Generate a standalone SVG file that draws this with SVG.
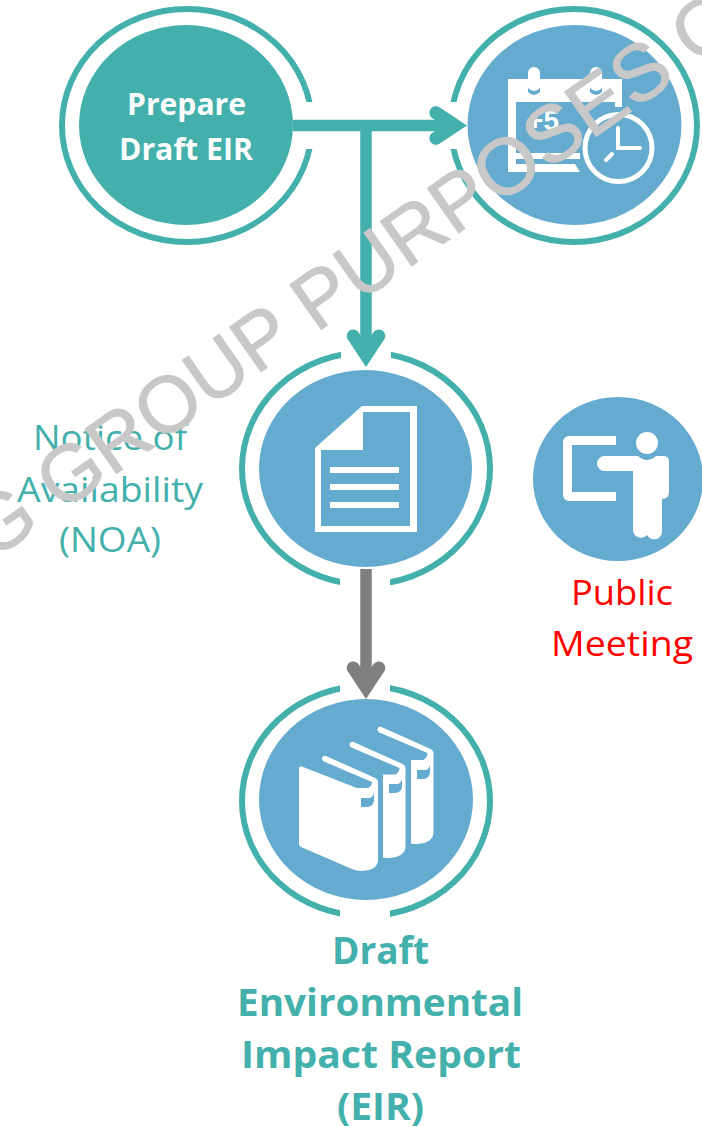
<svg xmlns="http://www.w3.org/2000/svg" width="702" height="1127" viewBox="0 0 702 1127">
<style>
.ring{fill:none;stroke:#43b0ac;stroke-width:6}
.disc{fill:#65abcf}
.ico{fill:#fff}
.t{font-family:"Open Sans","Liberation Sans",sans-serif;text-anchor:middle}
.r{font-size:35px}
.m{font-size:30px;font-weight:700;fill:#fff}
.b{font-size:38px;font-weight:700;fill:#43b0ac}
.teal{fill:#43b0ac}
.red{fill:#ff0000}
</style>
<defs>
<path id="head" d="M0 0L-18.500-28A6.500 6.500 0 0 1-8-35.500L0-24L8-35.500A6.500 6.500 0 0 1 18.500-28Z"/>
<clipPath id="gap-right"><path clip-rule="evenodd" d="M40 0H330V260H40zM250 102H330V149H250z"/></clipPath>
<clipPath id="gap-left"><path clip-rule="evenodd" d="M430 0H702V260H430zM430 102H500V149H430z"/></clipPath>
<clipPath id="gap-tb"><path clip-rule="evenodd" d="M220 340H510V930H220zM341 340H391V370H341zM340 570H390V700H340zM340 900H390V930H340z"/></clipPath>
</defs>
<rect width="702" height="1127" fill="#fff"/>
<g id="node-prepare">
<ellipse class="ring" cx="187" cy="125.500" rx="125" ry="116.500" clip-path="url(#gap-right)"/>
<ellipse cx="186" cy="125" rx="107" ry="100" fill="#43b0ac"/>
<text class="t m" x="186.500" y="115" textLength="119" lengthAdjust="spacingAndGlyphs">Prepare</text>
<text class="t m" x="186" y="160" textLength="134" lengthAdjust="spacingAndGlyphs">Draft EIR</text>
</g>
<g id="node-calendar">
<ellipse class="ring" cx="574" cy="125.500" rx="123" ry="116.500" clip-path="url(#gap-left)"/>
<ellipse class="disc" cx="574.500" cy="125" rx="107" ry="100"/>
<path class="ico" d="M508 79H528V73a6 6 0 0 1 12 0V79H590V73a6 6 0 0 1 12 0V79H622V107H615V102H516V153H580V159H516V164H575L580 172H508z"/>
<path class="disc" d="M528 88q6 6 12 0v4q-6 6-12 0zM590 88q6 6 12 0v4q-6 6-12 0z"/>
<circle cx="618.500" cy="148" r="33.500" fill="#65abcf" stroke="#fff" stroke-width="5"/>
<path d="M618 128V148H640M606 160L612 154" fill="none" stroke="#fff" stroke-width="4" stroke-linecap="round"/>
<text x="543" y="130" font-family="Liberation Sans,sans-serif" font-weight="700" font-size="28" text-anchor="middle" fill="#fff">+5</text>
</g>
<g id="node-noa">
<ellipse class="ring" cx="366" cy="468.500" rx="124" ry="116" clip-path="url(#gap-tb)"/>
<ellipse class="disc" cx="365.500" cy="468.500" rx="106.500" ry="98.500"/>
<path class="ico" fill-rule="evenodd" d="M362 406H417V532H315V448zM321 450V526H410V412H363V450z"/>
<path class="ico" d="M330 467h69v6h-69zM330 484h69v6h-69zM330 502h69v6h-69z"/>
<text class="t r teal" x="110" y="450" textLength="154" lengthAdjust="spacingAndGlyphs">Notice of</text>
<text class="t r teal" x="110" y="502" textLength="186" lengthAdjust="spacingAndGlyphs">Availability</text>
<text class="t r teal" x="110" y="552" textLength="102" lengthAdjust="spacingAndGlyphs">(NOA)</text>
</g>
<g id="node-meeting">
<ellipse class="disc" cx="618" cy="479" rx="85" ry="82"/>
<path class="ico" d="M616 436H569a6 6 0 0 0-6 6V495a6 6 0 0 0 6 6H616V492H572V445H616z"/>
<circle class="ico" cx="647" cy="443" r="11"/>
<path class="ico" d="M604.500 456H638Q647 464 656 456H664Q669 456 669 462V492Q669 499 662 499V530A8 8 0 0 1 647 535A8 8 0 0 1 633 530V471H604.500A7.500 7.500 0 0 1 604.500 456Z"/>
<text class="t r red" x="622" y="605" textLength="102" lengthAdjust="spacingAndGlyphs">Public</text>
<text class="t r red" x="622" y="656" textLength="142" lengthAdjust="spacingAndGlyphs">Meeting</text>
</g>
<g id="node-report">
<ellipse class="ring" cx="366" cy="801" rx="124" ry="115" clip-path="url(#gap-tb)"/>
<ellipse class="disc" cx="366" cy="799.500" rx="107" ry="100.500"/>
<path class="ico" d="M299 769Q299 765 303 767L357 788H368Q372 786 372 782L325 762Q322 761 322 758Q323 755 326 756L373 777Q378 779 378 782V860Q378 870 362 871Q356 871 352 869L301 847Q299 846 299 844Z"/>
<path class="ico" d="M383 774.500H395.500Q399.500 772 399.500 768L352.500 748Q349.500 747 349.500 744Q350.500 741 353.500 742L400.500 763Q405.500 765 405.500 768V846Q405.500 857 389 858Q385 858 383 857.500Z"/>
<path class="ico" d="M411 760H423.500Q427.500 757 427.500 753L380.500 733Q377.500 732 377.500 729Q378.500 726 381.500 727L428.500 748Q433.500 750 433.500 753V832Q433.500 843 417 844Q413 844 411 843.500Z"/>
<path class="disc" d="M361 798H370Q373 797 374 793V801Q373 807 366 807H361zM389 784H398Q401 783 402 779V787Q401 793 394 793H389zM417 770H426Q429 769 430 765V773Q429 779 422 779H417z"/>
<text class="t b" x="380.500" y="964" textLength="97" lengthAdjust="spacingAndGlyphs">Draft</text>
<text class="t b" x="380" y="1016" textLength="286" lengthAdjust="spacingAndGlyphs">Environmental</text>
<text class="t b" x="381" y="1068" textLength="280" lengthAdjust="spacingAndGlyphs">Impact Report</text>
<text class="t b" x="380.500" y="1120" textLength="87" lengthAdjust="spacingAndGlyphs">(EIR)</text>
</g>
<g id="connectors">
<path d="M293 125.500H450M366 125.500V350" fill="none" stroke="#43b0ac" stroke-width="11.500"/>
<use href="#head" transform="translate(467,125.500) rotate(-90)" fill="#43b0ac"/>
<use href="#head" transform="translate(366,367)" fill="#43b0ac"/>
<path d="M366 569V680" fill="none" stroke="#7f7f7f" stroke-width="11.500"/>
<use href="#head" transform="translate(366,699)" fill="#7f7f7f"/>
</g>
<text id="watermark" x="0" y="0" transform="translate(-8,561) rotate(-35.100)" font-family="Liberation Sans,sans-serif" font-size="79.500" fill="#c8c8c8" stroke="#c8c8c8" stroke-width="1">G GROUP PURPOSES O</text>
</svg>
